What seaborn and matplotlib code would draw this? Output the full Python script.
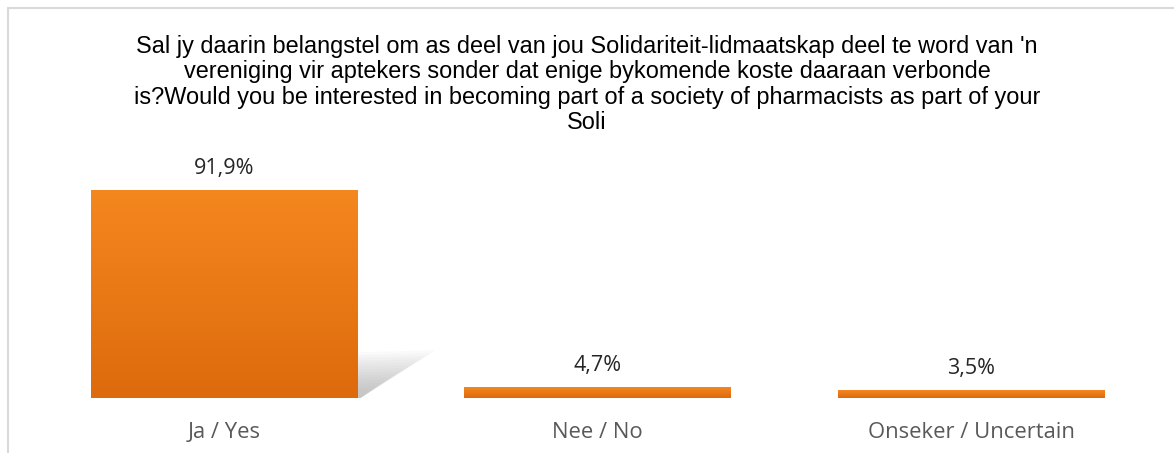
import numpy as np
import pandas as pd
import matplotlib.pyplot as plt
import seaborn as sns
from matplotlib.colors import LinearSegmentedColormap
from matplotlib.patches import Polygon, Rectangle

# chart data
categories = ["Ja / Yes", "Nee / No", "Onseker / Uncertain"]
percent = [91.9, 4.7, 3.5]
value_labels = ["91,9%", "4,7%", "3,5%"]
title_lines = [
    "Sal jy daarin belangstel om as deel van jou Solidariteit-lidmaatskap deel te word van 'n",
    "vereniging vir aptekers sonder dat enige bykomende koste daaraan verbonde",
    "is?Would you be interested in becoming part of a society of pharmacists as part of your",
    "Soli",
]

df = pd.DataFrame({"cat": categories, "pct": percent})

sns.set_theme(style="white")
plt.rcParams["font.family"] = ["Open Sans", "DejaVu Sans"]

fig = plt.figure(figsize=(11.74, 4.53), dpi=100)
ax = fig.add_axes([37 / 1174, 55 / 453, 1121 / 1174, 226 / 453])

sns.barplot(data=df, x="cat", y="pct", color="#EC7A1A", width=0.712,
            saturation=1, ax=ax)

ax.set_ylim(0, 100)
ax.set_xlim(-0.5, 2.5)

# vertical orange gradient inside each bar
grad = LinearSegmentedColormap.from_list("org", ["#DD6A0C", "#F5871F"])
g = np.linspace(0, 1, 256).reshape(-1, 1)
bars = list(ax.patches)
for p in bars:
    x0, y0 = p.get_x(), p.get_y()
    w, h = p.get_width(), p.get_height()
    p.set_facecolor("none")
    p.set_edgecolor("none")
    im = ax.imshow(g, cmap=grad, origin="lower", aspect="auto",
                   extent=[x0, x0 + w, y0, y0 + h], zorder=2)
    im.set_clip_path(p)

# soft perspective shadow behind the tallest bar
tall = bars[0]
bx = tall.get_x() + tall.get_width()
bh = tall.get_height()
for i in range(14):
    s = 1 - i / 16
    poly = Polygon([(bx, 0), (bx, bh * 0.22 * s), (bx + 0.21 * s, bh * 0.23 * s),
                    (bx + 0.01, 0)], closed=True, facecolor="#8f8f8f",
                   edgecolor="none", alpha=0.045, zorder=1)
    ax.add_patch(poly)

for p, lab in zip(bars, value_labels):
    ax.annotate(lab, (p.get_x() + p.get_width() / 2, p.get_height()),
                xytext=(0, 22), textcoords="offset pixels",
                ha="center", va="center", fontsize=15.5, color="#262626")

ax.set_xlabel("")
ax.set_ylabel("")
ax.set_yticks([])
ax.tick_params(axis="x", length=0, pad=17.5, labelsize=15.8, labelcolor="#595959")
for s in ax.spines.values():
    s.set_visible(False)

fig.text(0.5, 1 - 35 / 453, "\n".join(title_lines), ha="center", va="top",
         fontsize=16.9, linespacing=1.13, color="#000000",
         family=["Liberation Sans", "DejaVu Sans"])

# light frame of the chart area
frame = Rectangle((7.5 / 1174, -0.1), 1.2, 1 - 8.5 / 453 + 0.1,
                  transform=fig.transFigure, facecolor="none",
                  edgecolor="#D9D9D9", linewidth=1.5)
fig.add_artist(frame)

fig.savefig("out.png", dpi=100)
